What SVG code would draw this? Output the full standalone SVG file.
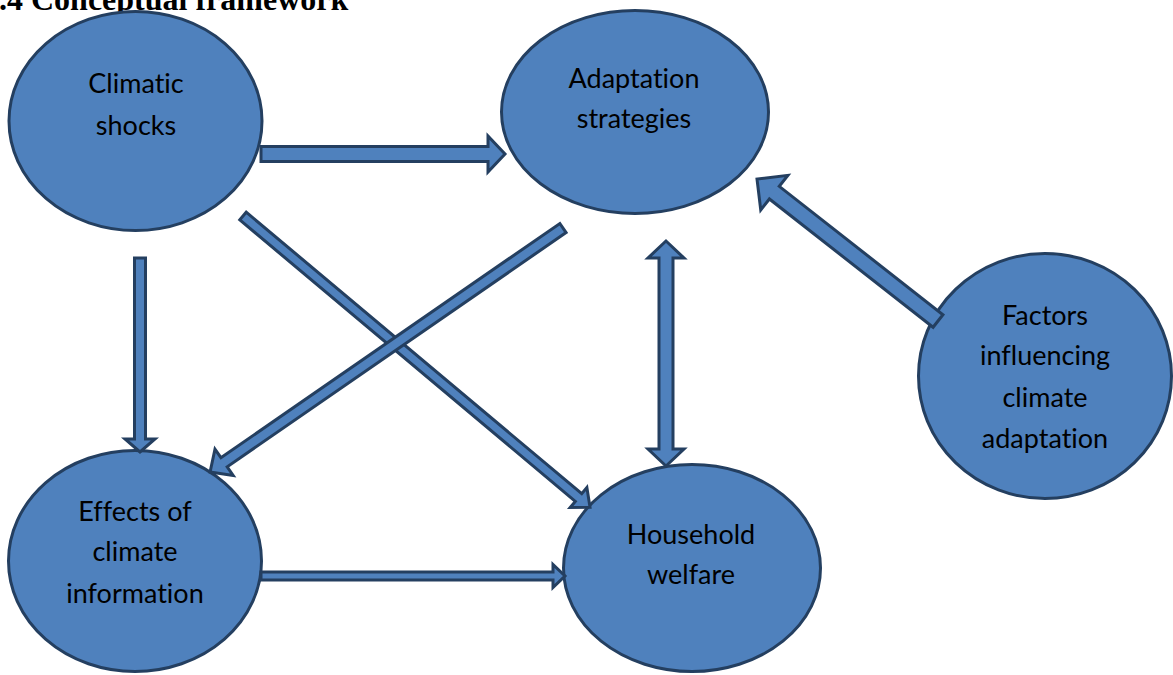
<svg xmlns="http://www.w3.org/2000/svg" width="1173" height="675" viewBox="0 0 1173 675">
<style>
.node{fill:#4F81BD;stroke:#243F60;stroke-width:3}
.arr{fill:#4F81BD;stroke:#243F60;stroke-width:3;stroke-linejoin:miter}
.lbl{font-family:Lato,"Open Sans",sans-serif;font-size:27px;fill:#000;text-anchor:middle;font-variant-ligatures:none;font-feature-settings:"liga" 0,"clig" 0}
.title{font-family:"Liberation Serif","Times New Roman",serif;font-weight:bold;font-size:32px;fill:#000}
</style>
<rect width="1173" height="675" fill="#fff"/>
<text class="title" x="-1" y="10">.4 Conceptual framework</text>
<g id="climatic-shocks">
<ellipse class="node" cx="135.5" cy="121" rx="126.5" ry="109.5"/>
<text class="lbl" x="136" y="93">Climatic</text>
<text class="lbl" x="136" y="135">shocks</text>
</g>
<g id="adaptation-strategies">
<ellipse class="node" cx="635" cy="112" rx="133.5" ry="101.5"/>
<text class="lbl" x="634" y="88">Adaptation</text>
<text class="lbl" x="634" y="128">strategies</text>
</g>
<g id="factors">
<ellipse class="node" cx="1045" cy="376" rx="126.5" ry="122.5"/>
<text class="lbl" x="1045" y="325">Factors</text>
<text class="lbl" x="1045" y="365">influencing</text>
<text class="lbl" x="1045" y="407">climate</text>
<text class="lbl" x="1045" y="448">adaptation</text>
</g>
<g id="effects">
<ellipse class="node" cx="135" cy="561" rx="126.5" ry="110.5"/>
<text class="lbl" x="135" y="521">Effects of</text>
<text class="lbl" x="135" y="561">climate</text>
<text class="lbl" x="135" y="603">information</text>
</g>
<g id="household-welfare">
<ellipse class="node" cx="692" cy="568" rx="128.5" ry="103.5"/>
<text class="lbl" x="691" y="544">Household</text>
<text class="lbl" x="691" y="584">welfare</text>
</g>
<g id="connectors">
<polygon class="arr" transform="translate(261,154)" points="0,-7.5 227,-7.5 227,-18 244,0 227,18 227,7.5 0,7.5"/>
<polygon class="arr" transform="translate(140,258) rotate(90)" points="0,-5.5 181,-5.5 181,-15 194,0 181,15 181,5.5 0,5.5"/>
<polygon class="arr" transform="translate(261,576)" points="0,-4 292,-4 292,-11.5 304,0 292,11.5 292,4 0,4"/>
<polygon class="arr" transform="translate(243,216) rotate(40)" points="0,-5 438,-5 438,-13 453,0 438,13 438,5 0,5"/>
<polygon class="arr" transform="translate(563,228) rotate(145.35)" points="0,-5.5 412,-5.5 412,-16 429,0 412,16 412,5.5 0,5.5"/>
<polygon class="arr" transform="translate(938,321) rotate(-141.9)" points="0,-8 208,-8 208,-22 230,0 208,22 208,8 0,8"/>
<polygon class="arr" points="666,241 684,258 673,258 673,449 684,449 666,466 648,449 659,449 659,258 648,258"/>
</g>
</svg>
